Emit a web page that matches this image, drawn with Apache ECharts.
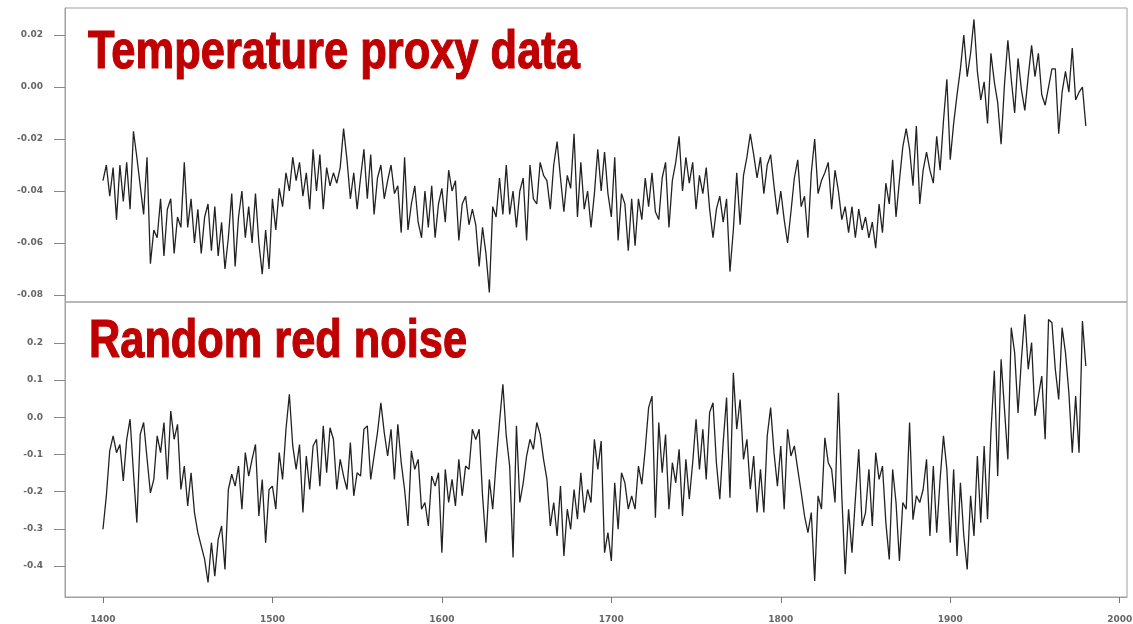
<!DOCTYPE html>
<html><head><meta charset="utf-8">
<script src="https://cdn.jsdelivr.net/npm/echarts@6/dist/echarts.min.js"></script>
<style>html,body{margin:0;padding:0;background:#fff}#c{width:1133px;height:624px}</style>
</head><body><div id="c"></div>
<script>
// ---- data (one value every 2 years from 1400) ----
const startYear = 1400;
const stepYears = 2;
const proxyValues = [
 -0.036,-0.030,-0.042,-0.031,-0.051,
 -0.030,-0.044,-0.029,-0.047,-0.017,
 -0.027,-0.038,-0.049,-0.027,-0.068,
 -0.055,-0.058,-0.043,-0.065,-0.047,
 -0.043,-0.064,-0.050,-0.054,-0.029,
 -0.054,-0.043,-0.060,-0.047,-0.064,
 -0.050,-0.045,-0.063,-0.046,-0.065,
 -0.052,-0.070,-0.058,-0.041,-0.069,
 -0.050,-0.040,-0.058,-0.046,-0.060,
 -0.041,-0.060,-0.072,-0.055,-0.070,
 -0.043,-0.055,-0.039,-0.046,-0.033,
 -0.040,-0.027,-0.036,-0.029,-0.042,
 -0.033,-0.047,-0.024,-0.040,-0.026,
 -0.047,-0.031,-0.038,-0.033,-0.037,
 -0.031,-0.016,-0.028,-0.043,-0.033,
 -0.047,-0.035,-0.024,-0.043,-0.026,
 -0.049,-0.035,-0.030,-0.043,-0.036,
 -0.030,-0.041,-0.038,-0.056,-0.027,
 -0.055,-0.045,-0.038,-0.052,-0.058,
 -0.040,-0.054,-0.038,-0.058,-0.045,
 -0.039,-0.052,-0.032,-0.040,-0.036,
 -0.059,-0.045,-0.042,-0.053,-0.047,
 -0.053,-0.069,-0.054,-0.064,-0.079,
 -0.046,-0.050,-0.035,-0.049,-0.030,
 -0.049,-0.040,-0.054,-0.040,-0.035,
 -0.059,-0.030,-0.043,-0.045,-0.029,
 -0.034,-0.036,-0.047,-0.030,-0.021,
 -0.035,-0.048,-0.034,-0.039,-0.018,
 -0.050,-0.029,-0.047,-0.040,-0.054,
 -0.041,-0.024,-0.040,-0.025,-0.041,
 -0.050,-0.027,-0.059,-0.041,-0.045,
 -0.063,-0.043,-0.061,-0.043,-0.051,
 -0.035,-0.046,-0.033,-0.048,-0.051,
 -0.035,-0.029,-0.054,-0.036,-0.029,
 -0.019,-0.040,-0.027,-0.037,-0.029,
 -0.047,-0.034,-0.041,-0.031,-0.047,
 -0.058,-0.047,-0.042,-0.052,-0.043,
 -0.071,-0.055,-0.033,-0.053,-0.034,
 -0.027,-0.018,-0.026,-0.035,-0.027,
 -0.041,-0.030,-0.026,-0.038,-0.049,
 -0.040,-0.051,-0.060,-0.048,-0.035,
 -0.028,-0.046,-0.042,-0.058,-0.033,
 -0.020,-0.041,-0.036,-0.033,-0.029,
 -0.047,-0.032,-0.040,-0.051,-0.046,
 -0.056,-0.046,-0.058,-0.047,-0.055,
 -0.050,-0.058,-0.052,-0.062,-0.045,
 -0.056,-0.037,-0.045,-0.028,-0.050,
 -0.036,-0.023,-0.016,-0.024,-0.038,
 -0.015,-0.045,-0.032,-0.025,-0.032,
 -0.037,-0.019,-0.032,-0.013, 0.003,
 -0.028,-0.014,-0.003, 0.007, 0.020,
  0.004, 0.013, 0.026, 0.006,-0.005,
  0.002,-0.014, 0.013, 0.002,-0.006,
 -0.022, 0.001, 0.018, 0.003,-0.010,
  0.011,-0.001,-0.009, 0.004, 0.016,
  0.004, 0.013,-0.003,-0.007, 0.000,
  0.007, 0.007,-0.018,-0.002, 0.006,
 -0.002, 0.015,-0.005,-0.002, 0.000,
 -0.015
];
const noiseValues = [
 -0.301,-0.211,-0.090,-0.050,-0.095,
 -0.073,-0.171,-0.060,-0.005,-0.149,
 -0.283,-0.046,-0.014,-0.110,-0.203,
 -0.167,-0.050,-0.095,-0.014,-0.167,
  0.017,-0.059,-0.019,-0.194,-0.131,
 -0.238,-0.149,-0.256,-0.310,-0.346,
 -0.382,-0.444,-0.337,-0.427,-0.328,
 -0.292,-0.409,-0.194,-0.153,-0.185,
 -0.131,-0.247,-0.095,-0.158,-0.113,
 -0.073,-0.265,-0.167,-0.337,-0.194,
 -0.185,-0.247,-0.095,-0.167,-0.032,
  0.062,-0.077,-0.140,-0.073,-0.256,
 -0.104,-0.194,-0.077,-0.059,-0.185,
 -0.023,-0.149,-0.028,-0.059,-0.194,
 -0.113,-0.158,-0.194,-0.068,-0.211,
 -0.149,-0.158,-0.032,-0.023,-0.167,
 -0.104,-0.041, 0.039,-0.041,-0.104,
 -0.032,-0.167,-0.019,-0.122,-0.194,
 -0.292,-0.090,-0.140,-0.113,-0.247,
 -0.229,-0.292,-0.158,-0.185,-0.149,
 -0.364,-0.140,-0.229,-0.167,-0.238,
 -0.113,-0.211,-0.131,-0.140,-0.032,
 -0.060,-0.032,-0.211,-0.337,-0.167,
 -0.247,-0.122,-0.014, 0.089,-0.050,
 -0.131,-0.377,-0.023,-0.229,-0.176,
 -0.104,-0.059,-0.086,-0.014,-0.046,
 -0.113,-0.167,-0.292,-0.229,-0.319,
 -0.185,-0.373,-0.247,-0.301,-0.194,
 -0.274,-0.149,-0.256,-0.194,-0.229,
 -0.059,-0.140,-0.064,-0.364,-0.310,
 -0.386,-0.176,-0.301,-0.149,-0.176,
 -0.247,-0.211,-0.247,-0.131,-0.180,
 -0.086, 0.026, 0.057,-0.270,-0.014,
 -0.149,-0.046,-0.247,-0.122,-0.176,
 -0.086,-0.265,-0.113,-0.220,-0.122,
 -0.005,-0.140,-0.032,-0.167, 0.013,
  0.039,-0.122,-0.220,-0.068, 0.053,
 -0.216, 0.120,-0.032, 0.048,-0.113,
 -0.059,-0.193,-0.104,-0.256,-0.140,
 -0.256,-0.050, 0.026,-0.095,-0.185,
 -0.077,-0.247,-0.032,-0.104,-0.077,
 -0.140,-0.200,-0.265,-0.310,-0.256,
 -0.440,-0.211,-0.247,-0.055,-0.122,
 -0.140,-0.229, 0.066,-0.211,-0.422,
 -0.247,-0.364,-0.220,-0.086,-0.292,
 -0.256,-0.140,-0.292,-0.095,-0.167,
 -0.131,-0.283,-0.382,-0.140,-0.229,
 -0.386,-0.229,-0.247,-0.014,-0.275,
 -0.211,-0.229,-0.194,-0.113,-0.319,
 -0.131,-0.310,-0.167,-0.050,-0.140,
 -0.337,-0.140,-0.373,-0.176,-0.319,
 -0.409,-0.211,-0.319,-0.104,-0.283,
 -0.077,-0.274,-0.041, 0.125,-0.158,
  0.156, 0.022,-0.113, 0.241, 0.174,
  0.012, 0.156, 0.277, 0.129, 0.201,
  0.004, 0.057, 0.111,-0.059, 0.263,
  0.254, 0.129, 0.048, 0.241, 0.174,
  0.066,-0.095, 0.057,-0.095, 0.259,
  0.138
];
const xTicks = [1400, 1500, 1600, 1700, 1800, 1900, 2000];
const proxyTicks = [-0.08, -0.06, -0.04, -0.02, 0.00, 0.02];
const noiseTicks = [-0.4, -0.3, -0.2, -0.1, 0.0, 0.1, 0.2];
const panelTitles = ['Temperature proxy data', 'Random red noise'];

// ---- chart ----
const chart = echarts.init(document.getElementById('c'), null, {renderer: 'canvas'});
const toPairs = vals => vals.map((v, i) => [startYear + i * stepYears, v]);

const gray = '#a0a0a0';
const labelStyle = {color: '#666', fontSize: 9, fontWeight: 'bold', fontFamily: 'DejaVu Sans'};

const titleFont = 'bold 54px "Liberation Sans Narrow", "Liberation Sans", Arial, sans-serif';
function measure(text) {
  const ctx = document.createElement('canvas').getContext('2d');
  ctx.font = titleFont;
  return ctx.measureText(text).width;
}
function titleEl(text, x, yMid, targetW) {
  return {
    type: 'text', x: x, y: yMid, scaleX: targetW / measure(text), z: 100,
    style: {text: text, font: titleFont, fill: '#c00000', stroke: '#c00000', lineWidth: 1.2,
            textAlign: 'left', textVerticalAlign: 'middle'}
  };
}

const xMin = 1377.6, xMax = 2004.3;
chart.setOption({
  animation: false,
  backgroundColor: '#fff',
  grid: [
    {left: 65, top: 8, width: 1062, height: 294, show: true, borderColor: gray, borderWidth: 1,
     backgroundColor: 'transparent', containLabel: false, outerBoundsMode: 'none'},
    {left: 65, top: 302, width: 1062, height: 295, show: true, borderColor: gray, borderWidth: 1,
     backgroundColor: 'transparent', containLabel: false, outerBoundsMode: 'none'}
  ],
  xAxis: [
    {type: 'value', gridIndex: 0, min: xMin, max: xMax, show: false},
    {type: 'value', gridIndex: 1, min: xMin, max: xMax,
     axisLine: {show: true, onZero: false, lineStyle: {color: gray}},
     axisTick: {show: true, length: 6, customValues: xTicks, lineStyle: {color: '#777'}},
     axisLabel: Object.assign({customValues: xTicks, margin: 18, formatter: v => String(v)}, labelStyle),
     splitLine: {show: false}}
  ],
  yAxis: [
    {type: 'value', gridIndex: 0, min: -0.0827, max: 0.0304,
     axisLine: {show: true, onZero: false, lineStyle: {color: gray}},
     axisTick: {show: true, length: 11, customValues: proxyTicks, lineStyle: {color: '#888'}},
     axisLabel: Object.assign({customValues: proxyTicks, margin: 22, formatter: v => v.toFixed(2)}, labelStyle),
     splitLine: {show: false}},
    {type: 'value', gridIndex: 1, min: -0.483, max: 0.31,
     axisLine: {show: true, onZero: false, lineStyle: {color: gray}},
     axisTick: {show: true, length: 11, customValues: noiseTicks, lineStyle: {color: '#888'}},
     axisLabel: Object.assign({customValues: noiseTicks, margin: 22, formatter: v => v.toFixed(1)}, labelStyle),
     splitLine: {show: false}}
  ],
  series: [
    {type: 'line', xAxisIndex: 0, yAxisIndex: 0, data: toPairs(proxyValues), showSymbol: false,
     lineStyle: {color: '#222', width: 1.3}},
    {type: 'line', xAxisIndex: 1, yAxisIndex: 1, data: toPairs(noiseValues), showSymbol: false,
     lineStyle: {color: '#222', width: 1.3}}
  ],
  graphic: [
    titleEl(panelTitles[0], 88, 53, 492),
    titleEl(panelTitles[1], 89, 342, 378)
  ]
});
</script>
</body></html>
